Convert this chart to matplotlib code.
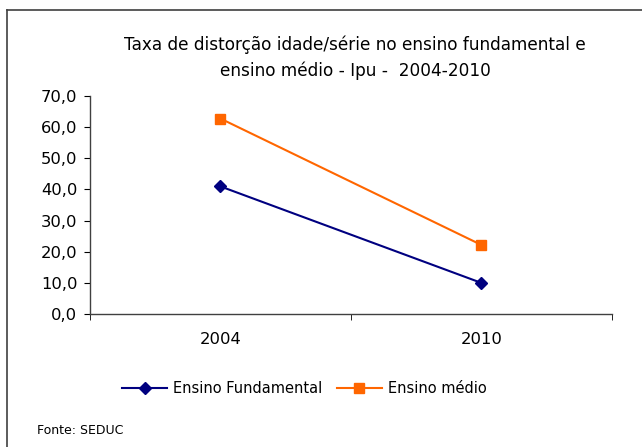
import matplotlib.pyplot as plt
import numpy as np
from matplotlib.lines import Line2D

plt.rcParams['font.family'] = ['DejaVu Sans']

anos = ["2004", "2010"]
fundamental = [41.0, 10.0]
medio = [62.8, 22.2]
yticks = [0, 10, 20, 30, 40, 50, 60, 70]

fig = plt.figure(figsize=(6.42, 4.47), dpi=100)
ax = fig.add_axes([0.140, 0.2975, 0.813, 0.4875])

x = np.arange(len(anos))
ax.plot(x, fundamental, color="#000080", marker="D", markersize=6.5, lw=1.5,
        label="Ensino Fundamental")
ax.plot(x, medio, color="#FF6600", marker="s", markersize=7.5, lw=1.5,
        label="Ensino médio")

ax.set_xlim(-0.5, 1.5)
ax.set_ylim(0, 70)
ax.set_yticks(yticks)
ax.set_yticklabels([f"{v:.1f}".replace(".", ",") for v in yticks], fontsize=11.8)
ax.set_xticks(x)
ax.set_xticklabels(anos, fontsize=11.8)
ax.tick_params(axis="x", which="major", length=0, pad=13)
ax.set_xticks([-0.5, 0.5, 1.5], minor=True)
ax.tick_params(axis="x", which="minor", length=4, direction="out")
ax.tick_params(axis="y", length=4, direction="out", pad=5)
for s in ["top", "right"]:
    ax.spines[s].set_visible(False)
for s in ["left", "bottom"]:
    ax.spines[s].set_color("#404040")
    ax.spines[s].set_linewidth(1.0)

fig.text(0.553, 0.871, "Taxa de distorção idade/série no ensino fundamental e\nensino médio - Ipu -  2004-2010",
         ha="center", va="center", fontsize=12.2, linespacing=1.5)

fig.legend(loc="center", bbox_to_anchor=(0.474, 0.131), ncol=2, frameon=False,
           fontsize=10.5, handlelength=3.1, handletextpad=0.4, columnspacing=1.0)

fig.text(0.058, 0.038, "Fonte: SEDUC", fontsize=9, ha="left", va="center")

# moldura do gráfico
fig.add_artist(Line2D([7/642, 7/642], [0, 1 - 10/447], color="#404040", lw=1.2))
fig.add_artist(Line2D([7/642, 1], [1 - 10/447, 1 - 10/447], color="#404040", lw=1.2))

fig.savefig("out.png", dpi=100)
